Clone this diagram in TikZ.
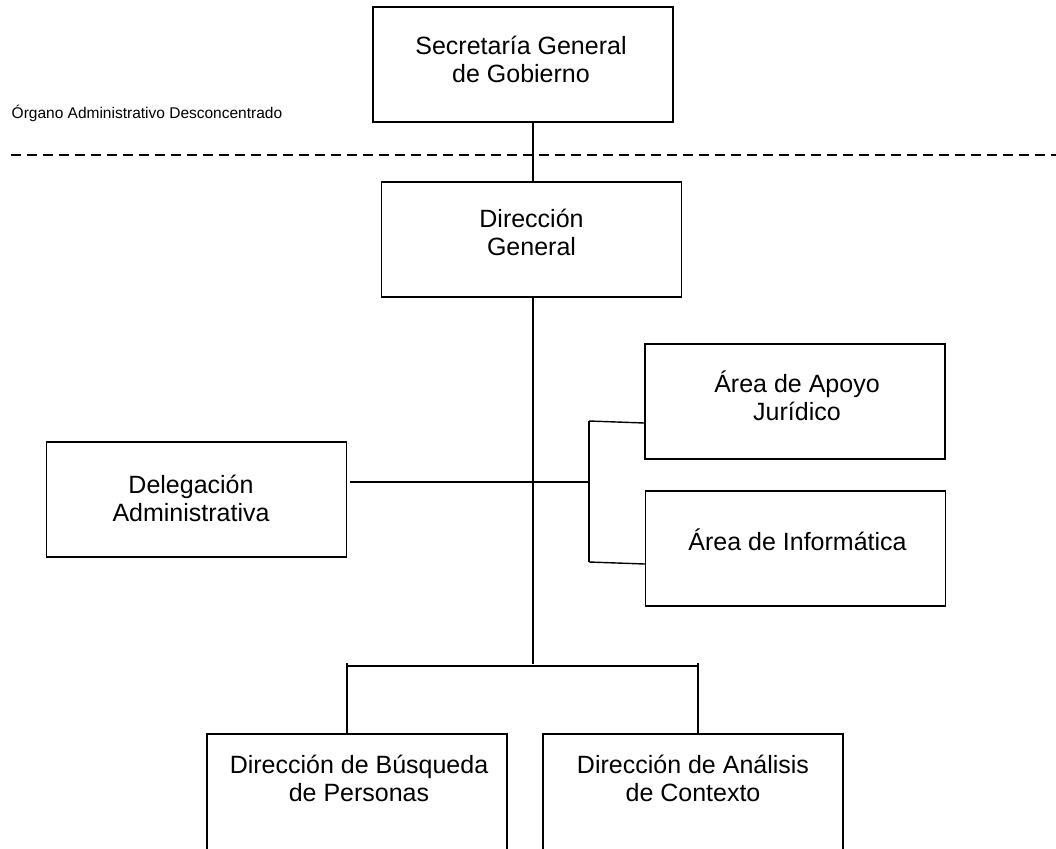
\documentclass[tikz,border=0pt]{standalone}
\usepackage{fontspec}
\setmainfont{Liberation Sans}
\begin{document}
\begin{tikzpicture}[x=1pt,y=-1pt,
  box/.style={draw=black,line width=1.4pt,inner sep=0pt,minimum width=300pt,minimum height=115pt},
  lbl/.style={anchor=base,inner sep=0pt,font=\fontsize{25}{29}\selectfont},
  conn/.style={draw=black,line width=1.4pt},
  sep/.style={draw=black,line width=2.2pt,dash pattern=on 9.5pt off 6.5pt}]
\useasboundingbox (0,0) rectangle (1056,848);
\clip (0,0) rectangle (1056,848);
% boxes
\node[box] (sg) at (523,64.5) {};
\node[box] (dg) at (531.5,239.5) {};
\node[box] (del) at (196.5,499.5) {};
\node[box] (apo) at (795,401.5) {};
\node[box] (inf) at (795.5,548.5) {};
\node[box,minimum height=130pt] (bus) at (357,799) {};
\node[box,minimum height=130pt] (ana) at (693,799) {};
% texts
\node[lbl] (sg1) at (521,55) {Secretaría General};
\node[lbl] (sg2) at (521,83) {de Gobierno};
\node[lbl] (dg1) at (531.5,227.5) {Dirección};
\node[lbl] (dg2) at (531.5,255) {General};
\node[lbl] (del1) at (191,493) {Delegación};
\node[lbl] (del2) at (191,521) {Administrativa};
\node[lbl] (apo1) at (797,392.5) {Área de Apoyo};
\node[lbl] (apo2) at (797,420.5) {Jurídico};
\node[lbl] (inf1) at (797.5,550.5) {Área de Informática};
\node[lbl] (bus1) at (359,773) {Dirección de Búsqueda};
\node[lbl] (bus2) at (359,801) {de Personas};
\node[lbl] (ana1) at (693,773) {Dirección de Análisis};
\node[lbl] (ana2) at (693,801) {de Contexto};
\node[anchor=base west,inner sep=0pt,font=\fontsize{15.5}{18}\selectfont] (org) at (11.5,118) {Órgano Administrativo Desconcentrado};
% separator
\coordinate (s1) at (11,155);
\coordinate (s2) at (1056,155);
\draw[sep] (s1) -- (s2);
% connectors
\coordinate (spineEnd) at (533,664);
\coordinate (midL) at (589,482);
\coordinate (delR) at (350,482);
\coordinate (brT) at (589,421);
\coordinate (brB) at (589,562);
\coordinate (hL) at (347,666);
\coordinate (hR) at (698,666);
\draw[conn] (sg.south -| 533,0) -- (dg.north -| 533,0);
\draw[conn] (dg.south -| 533,0) -- (spineEnd);
\draw[conn] (delR) -- (midL);
\draw[conn] (brT) -- (brB);
\draw[conn] (brT) -- (apo.west |- 0,423);
\draw[conn] (brB) -- (inf.west |- 0,564);
\draw[conn] (hL) -- (hR);
\draw[conn] (347,663) -- (bus.north -| 347,0);
\draw[conn] (698,663) -- (ana.north -| 698,0);
\end{tikzpicture}
\end{document}
